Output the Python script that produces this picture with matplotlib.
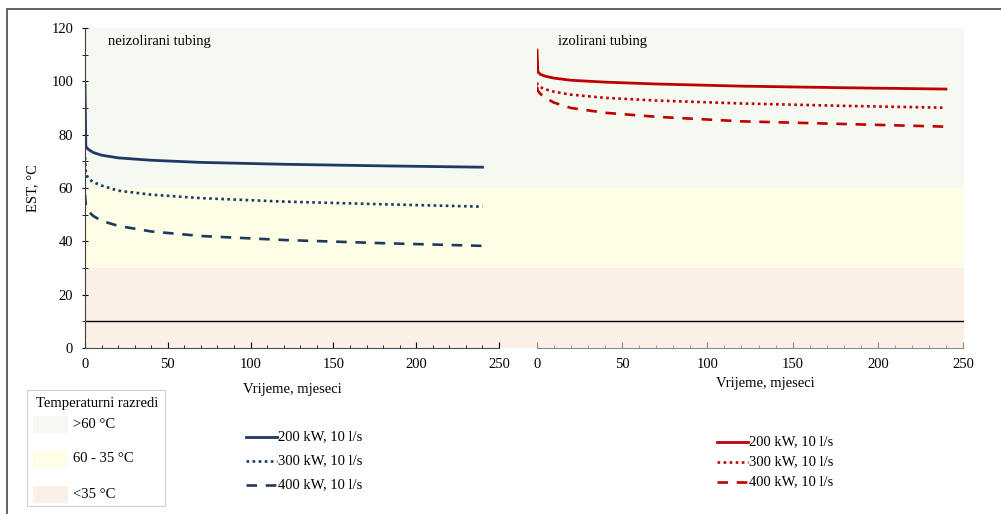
import matplotlib
matplotlib.use("Agg")
import matplotlib.pyplot as plt
from matplotlib.lines import Line2D
from matplotlib.patches import Rectangle
from matplotlib.ticker import MultipleLocator

plt.rcParams["font.family"] = ["Liberation Serif", "DejaVu Serif"]

# vrijeme u mjesecima
months = [0, 0.5, 2, 5, 10, 20, 40, 70, 120, 180, 240]

# neizolirani tubing
neizol_200 = [98.6, 75.5, 74.5, 73.3, 72.3, 71.3, 70.4, 69.6, 68.9, 68.3, 67.8]
neizol_300 = [71.5, 65.5, 63.5, 62.2, 60.9, 59.0, 57.5, 56.2, 54.9, 53.9, 53.0]
neizol_400 = [57.5, 53.5, 51.3, 49.5, 47.7, 45.8, 43.7, 42.0, 40.5, 39.3, 38.3]

# izolirani tubing
izol_200 = [111.7, 103.6, 102.6, 101.9, 101.2, 100.4, 99.7, 99.0, 98.2, 97.6, 97.1]
izol_300 = [99.5, 98.6, 97.8, 97.0, 96.1, 95.0, 93.8, 92.8, 91.7, 90.8, 90.1]
izol_400 = [98.0, 96.5, 95.3, 93.8, 92.0, 90.0, 88.2, 86.7, 85.0, 84.0, 83.0]

series_labels = ["200 kW, 10 l/s", "300 kW, 10 l/s", "400 kW, 10 l/s"]

band_names = [">60 °C", "60 - 35 °C", "<35 °C"]
band_limits = [(60, 120), (30, 60), (0, 30)]
ground_temp = 10

band_colors = ["#F6F9F1", "#FEFEE6", "#FBEFE6"]
blue = "#1F3864"
red = "#C00000"
styles = [
    dict(linestyle="-", linewidth=2.0),
    dict(linestyle=(0, (1, 1.3)), linewidth=1.9),
    dict(linestyle=(0, (4, 3.3)), linewidth=1.9),
]
fs = 10.5

W, H = 1001, 514
fig = plt.figure(figsize=(W / 100, H / 100), dpi=100)


def box(x0, x1, y0, y1):
    return [x0 / W, 1 - y1 / H, (x1 - x0) / W, (y1 - y0) / H]


def fp(x, y):
    return x / W, 1 - y / H


# pozadina s temperaturnim razredima
bg = fig.add_axes(box(85, 964, 28, 348))
for (lo, hi), c in zip(band_limits, band_colors):
    bg.axhspan(lo, hi, color=c, lw=0)
bg.axhline(ground_temp, color="black", lw=1)
bg.set_ylim(0, 120)
bg.set_xlim(0, 1)
bg.axis("off")

axL = fig.add_axes(box(85, 499, 28, 348))
axR = fig.add_axes(box(537, 963, 28, 348))

for ax, data, col in [(axL, [neizol_200, neizol_300, neizol_400], blue),
                      (axR, [izol_200, izol_300, izol_400], red)]:
    for vals, st in zip(data, styles):
        ax.plot(months, vals, color=col, **st)
    ax.set_xlim(0, 250)
    ax.set_ylim(0, 120)
    ax.patch.set_visible(False)
    ax.xaxis.set_major_locator(MultipleLocator(50))
    ax.xaxis.set_minor_locator(MultipleLocator(10))
    ax.tick_params(axis="x", which="major", direction="in", length=4, pad=7,
                   labelsize=fs)
    ax.tick_params(axis="x", which="minor", direction="in", length=2.5)
    for s in ["top", "right"]:
        ax.spines[s].set_visible(False)

axL.spines["bottom"].set_color("#505050")
axL.spines["left"].set_color("#404040")
axL.yaxis.set_major_locator(MultipleLocator(20))
axL.yaxis.set_minor_locator(MultipleLocator(10))
axL.tick_params(axis="y", which="major", direction="inout", length=5, pad=6,
                labelsize=fs)
axL.tick_params(axis="y", which="minor", direction="inout", length=4)
axL.set_ylabel("EST, °C", fontsize=fs, labelpad=9)

axR.spines["left"].set_visible(False)
axR.spines["bottom"].set_color("#8C8C8C")
axR.tick_params(axis="y", which="both", left=False, labelleft=False)
axR.tick_params(axis="x", which="both", color="#8C8C8C")

fig.text(*fp(292, 389), "Vrijeme, mjeseci", ha="center", va="center", fontsize=fs)
fig.text(*fp(765, 383), "Vrijeme, mjeseci", ha="center", va="center", fontsize=fs)
fig.text(*fp(108, 42), "neizolirani tubing", ha="left", va="center", fontsize=fs)
fig.text(*fp(558, 42), "izolirani tubing", ha="left", va="center", fontsize=fs)

# legenda temperaturnih razreda
fig.add_artist(Rectangle(fp(27, 506), 138 / W, 116 / H, transform=fig.transFigure,
                         facecolor="white", edgecolor="#D0D0D0", lw=0.8))
fig.text(*fp(97, 404), "Temperaturni razredi", ha="center", va="center", fontsize=fs)
for i, (name, c) in enumerate(zip(band_names, band_colors)):
    yc = 424 + i * 35
    fig.add_artist(Rectangle(fp(33, yc + 8.5), 35 / W, 17 / H,
                             transform=fig.transFigure, facecolor=c, lw=0))
    fig.text(*fp(73, yc), name, ha="left", va="center", fontsize=fs)

# legende serija
for x0, y0, dy, col in [(246, 437, 24, blue), (717, 442, 20, red)]:
    for i, (lab, st) in enumerate(zip(series_labels, styles)):
        y = y0 + i * dy
        fig.add_artist(Line2D([x0 / W, (x0 + 31) / W], [1 - y / H, 1 - y / H],
                              transform=fig.transFigure, color=col, **st))
        fig.text(*fp(x0 + 32, y), lab, ha="left", va="center", fontsize=fs)

# okvir slike
fig.add_artist(Line2D([7 / W, 7 / W, 1], [0, 1 - 9 / H, 1 - 9 / H],
                      transform=fig.transFigure, color="#555555", lw=1.3))

fig.savefig("out.png", dpi=100)
